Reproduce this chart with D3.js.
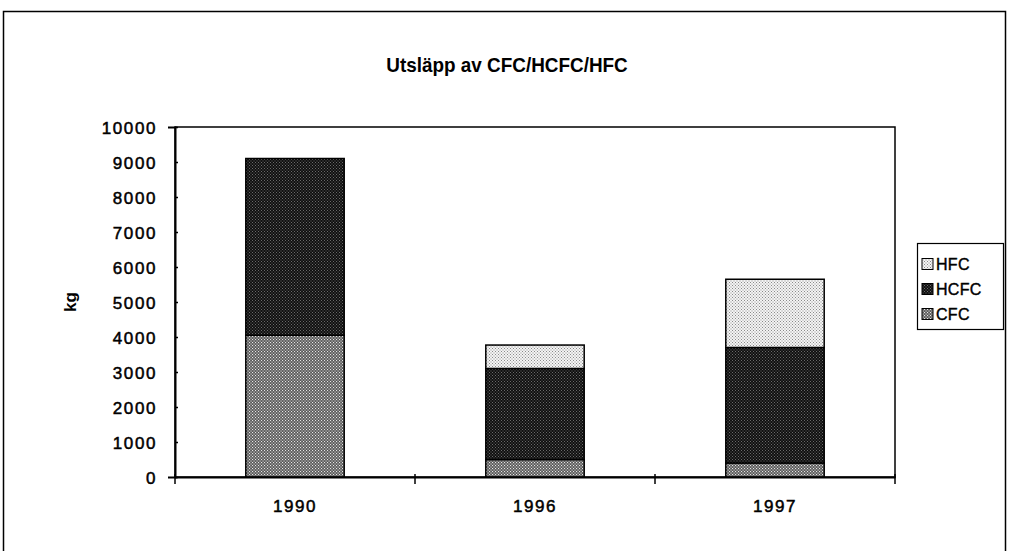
<!DOCTYPE html>
<html><head><meta charset="utf-8">
<script src="https://cdn.jsdelivr.net/npm/d3@7"></script>
<style>
body{margin:0;background:#fff;}
text{font-family:"Liberation Sans",Arial,sans-serif;fill:#000;}
</style></head>
<body><svg id="c" width="1011" height="551"></svg>
<script>
const categories = ["1990","1996","1997"];
const seriesNames = ["CFC","HCFC","HFC"];
const cfc  = [4050, 500, 400];
const hcfc = [5050, 2600, 3300];
const hfc  = [0, 670, 1950];
const yTicks = [0,1000,2000,3000,4000,5000,6000,7000,8000,9000,10000];
const title = "Utsläpp av CFC/HCFC/HFC";
const yTitle = "kg";

const svg = d3.select("#c");
const W = 1011, H = 551;
const m = {left:175, right:895, top:127, bottom:477};

// patterns
const defs = svg.append("defs");
function pat(id, bg, dot, size, ds){
  const p = defs.append("pattern").attr("id",id).attr("patternUnits","userSpaceOnUse")
    .attr("width",size).attr("height",size);
  p.append("rect").attr("width",size).attr("height",size).attr("fill",bg);
  p.append("rect").attr("x",0).attr("y",0).attr("width",ds).attr("height",ds).attr("fill",dot);
  p.append("rect").attr("x",size/2).attr("y",size/2).attr("width",ds).attr("height",ds).attr("fill",dot);
}
pat("pCFC","#5a5a5a","#e6e6e6",3,1.1);
pat("pHCFC","#101010","#6a6a6a",3,1);
pat("pHFC","#f4f4f4","#8a8a8a",3,1);
const fills = {CFC:"url(#pCFC)",HCFC:"url(#pHCFC)",HFC:"url(#pHFC)"};

// outer frame
svg.append("path").attr("d",`M3.5,${H} L3.5,11.5 L1005.5,11.5 L1005.5,${H}`)
  .attr("fill","none").attr("stroke","#000").attr("stroke-width",1.5);

const x = d3.scaleBand().domain(categories).range([m.left,m.right]).paddingInner(0.59).paddingOuter(0.295);
const y = d3.scaleLinear().domain([0,10000]).range([m.bottom,m.top]);

const data = categories.map((c,i)=>({cat:c,CFC:cfc[i],HCFC:hcfc[i],HFC:hfc[i]}));
const stacked = d3.stack().keys(seriesNames)(data);

// plot frame
svg.append("rect").attr("x",m.left).attr("y",m.top).attr("width",m.right-m.left).attr("height",m.bottom-m.top)
  .attr("fill","none").attr("stroke","#000").attr("stroke-width",1.5);

svg.append("g").selectAll("g").data(stacked).join("g")
  .attr("fill",d=>fills[d.key])
  .selectAll("rect").data(d=>d.filter(s=>s[1]-s[0]>0)).join("rect")
  .attr("x",d=>x(d.data.cat)).attr("width",x.bandwidth())
  .attr("y",d=>y(d[1])).attr("height",d=>y(d[0])-y(d[1]))
  .attr("stroke","#000").attr("stroke-width",1.5);

const labelStyle = sel => sel.style("font-size","17px").style("letter-spacing","1.6px")
  .attr("stroke","#000").attr("stroke-width",0.5);

// y axis
const ya = svg.append("g").attr("transform",`translate(${m.left},0)`)
  .call(d3.axisLeft(y).tickValues(yTicks).tickFormat(d3.format("d")).tickSize(7).tickPadding(11));
ya.select(".domain").attr("stroke-width",2);
ya.selectAll(".tick line").attr("stroke-width",1.5).attr("x2",3);
ya.selectAll("text").call(labelStyle).attr("dy","0.36em");

// x axis
const xa = svg.append("g").attr("transform",`translate(0,${m.bottom})`)
  .call(d3.axisBottom(x).tickSize(0).tickPadding(23));
xa.select(".domain").attr("stroke-width",2);
xa.selectAll("text").call(labelStyle);
// category separator ticks
const bounds = [0,1,2,3].map(i=>m.left + i*(m.right-m.left)/categories.length);
svg.append("g").selectAll("line").data(bounds).join("line")
  .attr("x1",d=>d).attr("x2",d=>d).attr("y1",m.bottom-3).attr("y2",m.bottom+7)
  .attr("stroke","#000").attr("stroke-width",1.5);

// title
svg.append("text").attr("transform","translate(507,72) scale(0.9,1)").attr("text-anchor","middle")
  .style("font-size","21px").style("font-weight","bold").text(title);
svg.append("text").attr("transform","translate(76,302) rotate(-90)").attr("text-anchor","middle")
  .style("font-size","17px").style("font-weight","bold").text(yTitle);

// legend
const lg = svg.append("g");
lg.append("rect").attr("x",917.5).attr("y",243.5).attr("width",86).attr("height",86)
  .attr("fill","#fff").attr("stroke","#000").attr("stroke-width",1.2);
const legendOrder = ["HFC","HCFC","CFC"];
legendOrder.forEach((k,i)=>{
  const yy = 264 + i*25;
  lg.append("rect").attr("x",922).attr("y",yy-5.5).attr("width",11).attr("height",11)
    .attr("fill",fills[k]).attr("stroke","#000").attr("stroke-width",1);
  lg.append("text").attr("x",936).attr("y",yy).attr("dy","0.36em")
    .style("font-size","16px").style("letter-spacing","0.3px")
    .attr("stroke","#000").attr("stroke-width",0.4).text(k);
});
</script></body></html>
